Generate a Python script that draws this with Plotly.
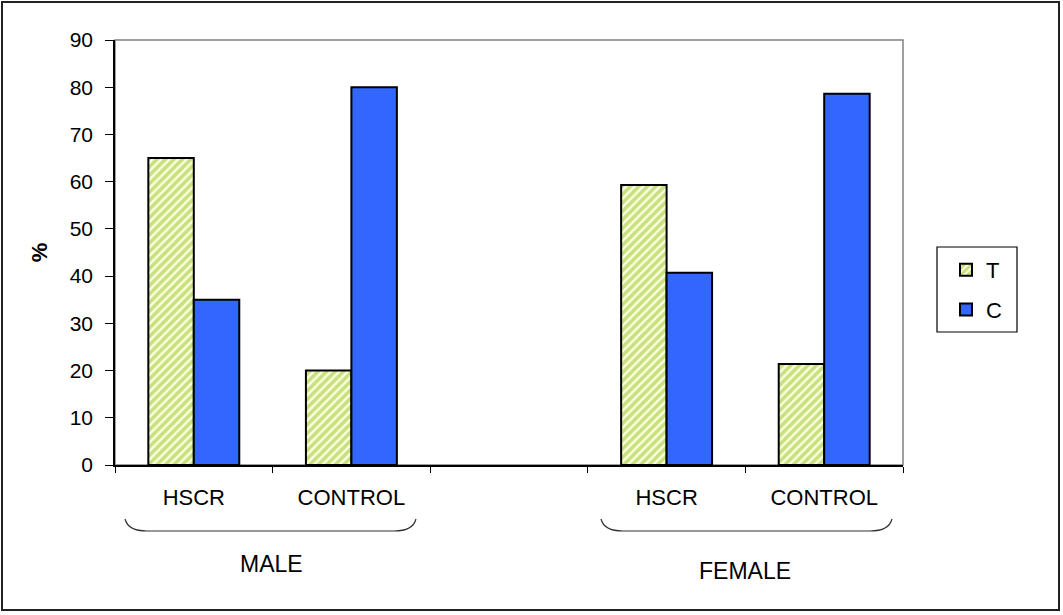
import plotly.graph_objects as go

# ---- data ----
category_keys = ["M_HSCR", "M_CONTROL", "GAP", "F_HSCR", "F_CONTROL"]
category_labels = ["HSCR", "CONTROL", "", "HSCR", "CONTROL"]
t_values = [65, 20, None, 59.3, 21.4]
c_values = [35, 80, None, 40.7, 78.6]
group_labels = ["MALE", "FEMALE"]
y_ticks = [0, 10, 20, 30, 40, 50, 60, 70, 80, 90]

W, H = 1063, 615
L, R, T, B = 115, 903, 40, 465


def px(x):
    return (x - L) / (R - L)


def py(y):
    return (B - y) / (B - T)


FONT = "Liberation Sans, Arial, sans-serif"

fig = go.Figure()
fig.add_trace(go.Bar(
    name="T", x=category_keys, y=t_values, legendgroup="t",
    marker=dict(color="#FFFFE0",
                line=dict(color="black", width=2),
                pattern=dict(shape="/", fgcolor="#8FC21F", bgcolor="#FFFFE0",
                             size=6, solidity=0.6)),
))
fig.add_trace(go.Bar(
    name="C", x=category_keys, y=c_values, legendgroup="c",
    marker=dict(color="#3366FF", line=dict(color="black", width=2)),
))

shapes = []
# plot area border (grey top/right)
shapes.append(dict(type="rect", xref="paper", yref="paper", x0=0, x1=1, y0=0, y1=1,
                   line=dict(color="#808080", width=1.5), layer="below"))
# outer border
shapes.append(dict(type="rect", xref="paper", yref="paper",
                   x0=px(2), x1=px(1059), y0=py(2), y1=py(610),
                   line=dict(color="#222222", width=2)))
# legend box
shapes.append(dict(type="rect", xref="paper", yref="paper",
                   x0=px(937), x1=px(1017), y0=py(247), y1=py(332),
                   line=dict(color="black", width=1.2)))


def brace(x0, x1, ytop, ybot, r=22):
    return ("M {a},{b} Q {c},{d} {e},{d} L {f},{d} Q {g},{d} {h},{b}".format(
        a=px(x0), b=py(ytop), c=px(x0 + 3), d=py(ybot), e=px(x0 + r),
        f=px(x1 - r), g=px(x1 - 3), h=px(x1)))


for (x0, x1) in [(125, 416), (601, 892)]:
    shapes.append(dict(type="path", xref="paper", yref="paper",
                       path=brace(x0, x1, 519, 531),
                       line=dict(color="#333333", width=1.2)))

annotations = [
    dict(text=group_labels[0], x=px(271), y=py(564), xref="paper", yref="paper",
         xanchor="center", yanchor="middle",
         showarrow=False, font=dict(size=23, family=FONT, color="black")),
    dict(text=group_labels[1], x=px(745), y=py(571), xref="paper", yref="paper",
         xanchor="center", yanchor="middle",
         showarrow=False, font=dict(size=23, family=FONT, color="black")),
]

fig.update_layout(
    width=W, height=H,
    margin=dict(l=L, r=W - R, t=T, b=H - B, autoexpand=False),
    paper_bgcolor="white", plot_bgcolor="white",
    font=dict(family=FONT, size=22, color="black"),
    barmode="group", bargap=0.423, bargroupgap=0,
    shapes=shapes, annotations=annotations,
    legend=dict(x=px(946), y=py(249), xanchor="left", yanchor="top",
                borderwidth=0, bgcolor="rgba(0,0,0,0)",
                font=dict(size=22, family=FONT), tracegroupgap=8,
                traceorder="grouped", itemwidth=30),
    showlegend=True,
)
fig.update_xaxes(
    type="category", categoryorder="array", categoryarray=category_keys,
    tickvals=category_keys, ticktext=category_labels,
    tickson="boundaries", ticks="outside", ticklen=6, tickcolor="black",
    showline=True, linecolor="black", linewidth=1.5, showgrid=False,
    ticklabelstandoff=12, tickfont=dict(size=22, family=FONT),
)
fig.update_yaxes(
    range=[0, 90], tickvals=y_ticks, ticks="outside", ticklen=8, tickcolor="black",
    showline=True, linecolor="black", linewidth=1.5, showgrid=False, zeroline=False,
    ticklabelstandoff=8, tickfont=dict(size=21, family=FONT),
    title=dict(text="<b>%</b>", standoff=16, font=dict(size=22, family=FONT)),
)

fig.write_html("out.html", config={"displayModeBar": False},
               post_script="document.body.style.margin='0';document.body.style.overflow='hidden';")
